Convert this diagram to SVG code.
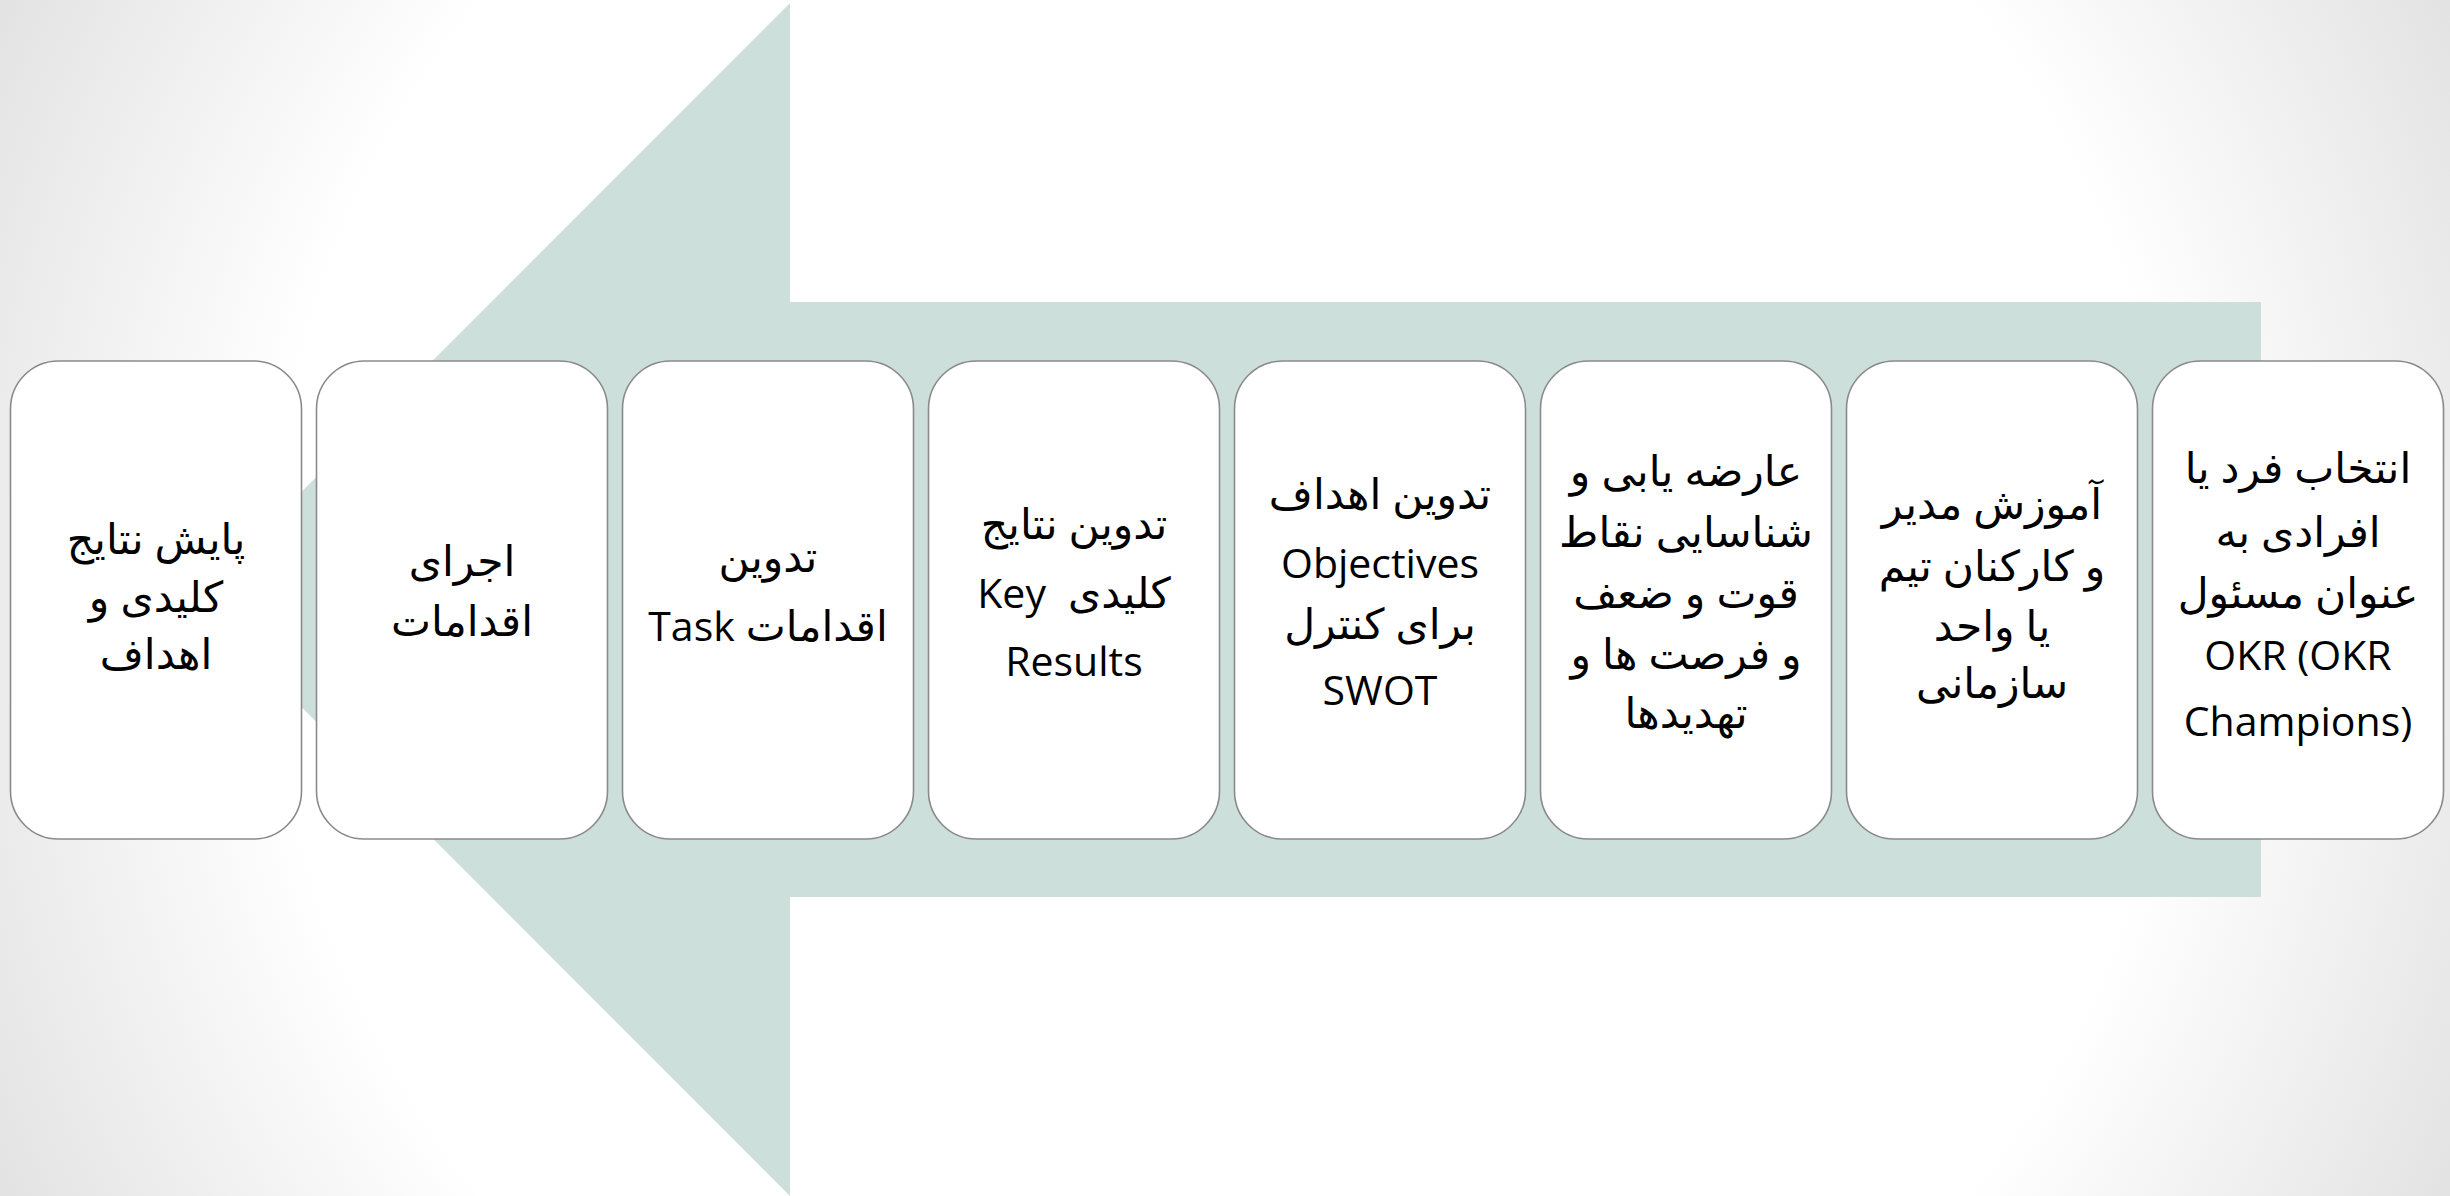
<svg xmlns="http://www.w3.org/2000/svg" width="2450" height="1196" viewBox="0 0 2450 1196">
<defs>
<radialGradient id="bg" gradientUnits="userSpaceOnUse" cx="1225" cy="598" r="1400">
<stop offset="0" stop-color="#ffffff"/>
<stop offset="0.68" stop-color="#ffffff"/>
<stop offset="1" stop-color="#e0e0e0"/>
</radialGradient>
<style>
.box{fill:#ffffff;stroke:#8a8a8a;stroke-width:1.6}
.t{font-family:"Open Sans","DejaVu Sans",sans-serif;font-size:41px;fill:#000;text-anchor:middle}
.r{direction:rtl;font-size:42.5px}
.l{direction:ltr}
.lat{font-size:41px}
</style>
</defs>
<rect x="0" y="0" width="2450" height="1196" fill="url(#bg)"/>
<g id="connectors">
<polygon points="2261,302 790,302 790,3 194,599.5 790,1196 790,897 2261,897" fill="#cddfdb"/>
</g>
<g id="n1">
<rect class="box" x="10.5" y="361" width="291" height="478" rx="48" ry="48"/>
<text class="t r" x="156" y="554">پایش نتایج</text>
<text class="t r" x="156" y="612">کلیدی و</text>
<text class="t r" x="156" y="669">اهداف</text>
</g>
<g id="n2">
<rect class="box" x="316.5" y="361" width="291" height="478" rx="48" ry="48"/>
<text class="t r" x="462" y="576">اجرای</text>
<text class="t r" x="462" y="636">اقدامات</text>
</g>
<g id="n3">
<rect class="box" x="622.5" y="361" width="291" height="478" rx="48" ry="48"/>
<text class="t r" x="768" y="572">تدوین</text>
<text class="t r" x="768" y="641">اقدامات <tspan class="lat">Task</tspan></text>
</g>
<g id="n4">
<rect class="box" x="928.5" y="361" width="291" height="478" rx="48" ry="48"/>
<text class="t r" x="1074" y="539">تدوین نتایج</text>
<text class="t r" x="1074" y="608">کلیدی&#160; <tspan class="lat">Key</tspan></text>
<text class="t l" x="1074" y="676">Results</text>
</g>
<g id="n5">
<rect class="box" x="1234.5" y="361" width="291" height="478" rx="48" ry="48"/>
<text class="t r" x="1380" y="509">تدوین اهداف</text>
<text class="t l" x="1380" y="578">Objectives</text>
<text class="t r" x="1380" y="639">برای کنترل</text>
<text class="t l" x="1380" y="705">SWOT</text>
</g>
<g id="n6">
<rect class="box" x="1540.5" y="361" width="291" height="478" rx="48" ry="48"/>
<text class="t r" x="1686" y="486">عارضه یابی و</text>
<text class="t r" x="1686" y="547">شناسایی نقاط</text>
<text class="t r" x="1686" y="608">قوت و ضعف</text>
<text class="t r" x="1686" y="669">و فرصت ها و</text>
<text class="t r" x="1686" y="728">تهدیدها</text>
</g>
<g id="n7">
<rect class="box" x="1846.5" y="361" width="291" height="478" rx="48" ry="48"/>
<text class="t r" x="1992" y="519">آموزش مدیر</text>
<text class="t r" x="1992" y="581">و کارکنان تیم</text>
<text class="t r" x="1992" y="641">یا واحد</text>
<text class="t r" x="1992" y="698">سازمانی</text>
</g>
<g id="n8">
<rect class="box" x="2152.5" y="361" width="291" height="478" rx="48" ry="48"/>
<text class="t r" x="2298" y="483">انتخاب فرد یا</text>
<text class="t r" x="2298" y="547">افرادی به</text>
<text class="t r" x="2298" y="608">عنوان مسئول</text>
<text class="t l" x="2298" y="670">OKR (OKR</text>
<text class="t l" x="2298" y="736">Champions)</text>
</g>
</svg>
